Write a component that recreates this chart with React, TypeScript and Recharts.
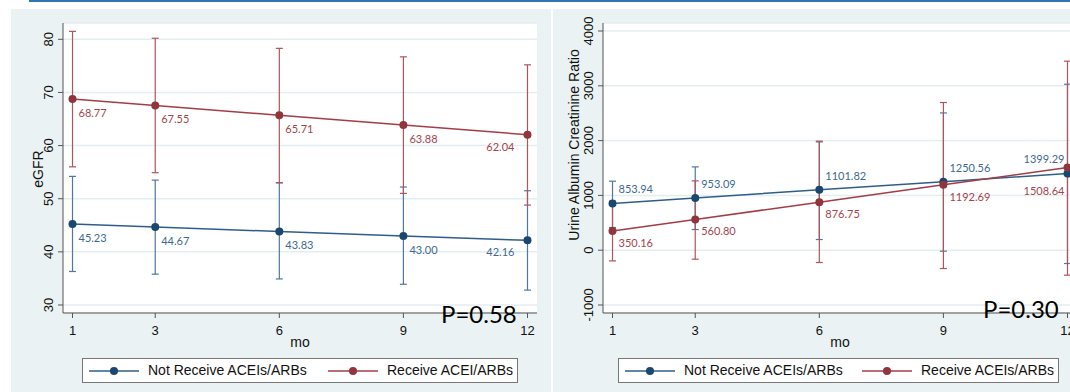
import {
  LineChart,
  Line,
  XAxis,
  YAxis,
  CartesianGrid,
  ErrorBar,
  LabelList,
  Legend,
} from "recharts";

const months = [1, 3, 6, 9, 12];

// eGFR panel
const egfrTicks = [30, 40, 50, 60, 70, 80];
const egfrNot = [45.23, 44.67, 43.83, 43.0, 42.16];
const egfrNotLow = [36.3, 35.8, 34.9, 33.9, 32.8];
const egfrNotHigh = [54.2, 53.5, 53.0, 52.2, 51.5];
const egfrRec = [68.77, 67.55, 65.71, 63.88, 62.04];
const egfrRecLow = [56.0, 54.9, 53.0, 51.0, 48.8];
const egfrRecHigh = [81.5, 80.2, 78.3, 76.7, 75.2];

// urine albumin creatinine ratio panel
const uacrTicks = [-1000, 0, 1000, 2000, 3000, 4000];
const uacrNot = [853.94, 953.09, 1101.82, 1250.56, 1399.29];
const uacrNotLow = [414, 377, 195, -18, -243];
const uacrNotHigh = [1259, 1520, 1976, 2505, 3029];
const uacrRec = [350.16, 560.8, 876.75, 1192.69, 1508.64];
const uacrRecLow = [-195, -164, -225, -334, -456];
const uacrRecHigh = [895, 1265, 1990, 2695, 3449];

const BLUE = "#2f5d89";
const BLUE_DOT = "#1a476f";
const BLUE_ERR = "#4d78a1";
const BLUE_TXT = "#3d6892";
const RED = "#a23d46";
const RED_DOT = "#90353b";
const RED_ERR = "#b0535b";
const RED_TXT = "#a3444c";
const BG = "#eaf2f3";
const AXIS = "#555";
const SANS = "'Liberation Sans', Arial, sans-serif";

function buildRows(
  a: number[], aLo: number[], aHi: number[],
  b: number[], bLo: number[], bHi: number[]
) {
  return months.map((m, i) => ({
    mo: m,
    not: a[i],
    notErr: [a[i] - aLo[i], aHi[i] - a[i]],
    rec: b[i],
    recErr: [b[i] - bLo[i], bHi[i] - b[i]],
  }));
}

const egfrRows = buildRows(egfrNot, egfrNotLow, egfrNotHigh, egfrRec, egfrRecLow, egfrRecHigh);
const uacrRows = buildRows(uacrNot, uacrNotLow, uacrNotHigh, uacrRec, uacrRecLow, uacrRecHigh);

const XTick = ({ x, y, payload }: any) => (
  <text x={x} y={y + 17} textAnchor="middle" fill="#111" fontSize={13} fontFamily={SANS}>
    {payload.value}
  </text>
);

const YTick = ({ x, y, payload }: any) => (
  <text
    transform={`translate(${x - 5.3},${y}) rotate(-90)`}
    textAnchor="middle"
    fill="#111"
    fontSize={13}
    fontFamily={SANS}
  >
    {payload.value}
  </text>
);

// point labels: "below" -> under & right, "above" -> over & right, last point anchored to the left
function pointLabel(color: string, dy: number, lastDy: number, lastDx: number) {
  return (props: any) => {
    const x = props.x ?? props.viewBox?.x;
    const y = props.y ?? props.viewBox?.y;
    if (x == null || y == null) return null;
    const last = props.index === months.length - 1;
    return (
      <text
        x={last ? x + lastDx : x + 6}
        y={y + (last ? lastDy : dy)}
        textAnchor={last ? "end" : "start"}
        fill={color}
        fontSize={11}
        fontFamily="Lato, sans-serif"
      >
        {Number(props.value).toFixed(2)}
      </text>
    );
  };
}

function yTitle(text: string, dx: number, dy: number) {
  return (props: any) => {
    const vb = props.viewBox || { x: 0, y: 14, width: 52, height: 290 };
    const cy = vb.y + vb.height / 2 + dy;
    return (
      <text
        transform={`translate(${vb.x + dx},${cy}) rotate(-90)`}
        textAnchor="middle"
        fill="#111"
        fontSize={14}
        fontFamily={SANS}
      >
        {text}
      </text>
    );
  };
}

const xTitle = (props: any) => {
  const vb = props.viewBox || { x: 52, y: 304, width: 474, height: 40 };
  return (
    <text x={vb.x + vb.width / 2} y={vb.y + 34} textAnchor="middle" fill="#111" fontSize={14} fontFamily={SANS}>
      mo
    </text>
  );
};

function LegendSymbol({ left, color, dot }: { left: number; color: string; dot: string }) {
  return (
    <svg width={52} height={12} style={{ position: "absolute", left, top: 6 }}>
      <line x1={0} y1={6} x2={50} y2={6} stroke={color} strokeWidth={1.5} />
      <circle cx={25} cy={6} r={4} fill={dot} />
    </svg>
  );
}

function legendBox(width: number, names: string[], pos: number[]) {
  return () => (
    <div
      style={{
        width,
        height: 25,
        boxSizing: "border-box",
        border: "1px solid #777",
        background: "#fff",
        position: "relative",
        fontFamily: SANS,
        fontSize: 14,
        color: "#111",
      }}
    >
      <LegendSymbol left={pos[0]} color={BLUE} dot={BLUE_DOT} />
      <span style={{ position: "absolute", left: pos[1], top: 3, whiteSpace: "nowrap" }}>{names[0]}</span>
      <LegendSymbol left={pos[2]} color={RED} dot={RED_DOT} />
      <span style={{ position: "absolute", left: pos[3], top: 3, whiteSpace: "nowrap" }}>{names[1]}</span>
    </div>
  );
}

type PanelProps = {
  rows: any[];
  width: number;
  yWidth: number;
  domain: [number, number];
  ticks: number[];
  title: any;
  notLabel: any;
  recLabel: any;
  legend: any;
  legendLeft: number;
  legendWidth: number;
};

function Panel(p: PanelProps) {
  return (
    <LineChart width={p.width} height={383} data={p.rows} margin={{ top: 14, right: 14, bottom: 39, left: 0 }}>
      <CartesianGrid vertical={false} stroke="#e4edf0" strokeWidth={1.5} fill="#ffffff" />
      <XAxis
        type="number"
        dataKey="mo"
        domain={[0.77, 12.23]}
        ticks={months}
        allowDataOverflow
        height={40}
        stroke={AXIS}
        tickSize={5}
        tickMargin={0}
        tick={<XTick />}
        label={{ content: xTitle }}
      />
      <YAxis
        type="number"
        width={p.yWidth}
        domain={p.domain}
        ticks={p.ticks}
        allowDataOverflow
        stroke={AXIS}
        tickSize={5}
        tickMargin={0}
        tick={<YTick />}
        label={{ content: p.title }}
      />
      <Line
        dataKey="not"
        stroke={BLUE}
        strokeWidth={1.5}
        dot={{ r: 4, fill: BLUE_DOT, stroke: BLUE_DOT, strokeWidth: 0 }}
        activeDot={false}
        isAnimationActive={false}
      >
        <ErrorBar dataKey="notErr" direction="y" width={3.5} stroke={BLUE_ERR} strokeWidth={1.2} isAnimationActive={false} />
        <LabelList dataKey="not" content={p.notLabel} />
      </Line>
      <Line
        dataKey="rec"
        stroke={RED}
        strokeWidth={1.5}
        dot={{ r: 4, fill: RED_DOT, stroke: RED_DOT, strokeWidth: 0 }}
        activeDot={false}
        isAnimationActive={false}
      >
        <ErrorBar dataKey="recErr" direction="y" width={3.5} stroke={RED_ERR} strokeWidth={1.2} isAnimationActive={false} />
        <LabelList dataKey="rec" content={p.recLabel} />
      </Line>
      <Legend
        layout="horizontal"
        verticalAlign="middle"
        align="center"
        content={p.legend}
        wrapperStyle={{ left: p.legendLeft, top: 349, width: p.legendWidth, height: 25 }}
      />
    </LineChart>
  );
}

export default function App() {
  return (
    <div
      style={{
        position: "absolute",
        left: 0,
        top: 0,
        width: 1070,
        height: 392,
        overflow: "hidden",
        background: "#fff",
      }}
    >
      <div style={{ position: "absolute", left: 29, top: 0, width: 1041, height: 2, background: "#2e75b6" }} />
      <div style={{ position: "absolute", left: 11, top: 9, width: 540, height: 383, background: BG }}>
        <Panel
          rows={egfrRows}
          width={540}
          yWidth={52}
          domain={[28.49, 83.07]}
          ticks={egfrTicks}
          title={yTitle("eGFR", 32, 1)}
          notLabel={pointLabel(BLUE_TXT, 18, 16, -13)}
          recLabel={pointLabel(RED_TXT, 18, 16, -13)}
          legend={legendBox(436, ["Not Receive ACEIs/ARBs", "Receive ACEI/ARBs"], [6, 65, 245, 304])}
          legendLeft={71}
          legendWidth={436}
        />
      </div>
      <div style={{ position: "absolute", left: 553, top: 9, width: 517, height: 383, background: BG, overflow: "hidden" }}>
        <Panel
          rows={uacrRows}
          width={538}
          yWidth={50}
          domain={[-1146, 4146]}
          ticks={uacrTicks}
          title={yTitle("Urine Albumin Creatinine Ratio", 26, -23)}
          notLabel={pointLabel(BLUE_TXT, -10, -11, -3)}
          recLabel={pointLabel(RED_TXT, 16, 27, -3)}
          legend={legendBox(441, ["Not Receive ACEIs/ARBs", "Receive ACEIs/ARBs"], [6, 65, 243, 302])}
          legendLeft={65}
          legendWidth={441}
        />
      </div>
      <svg
        width={1070}
        height={392}
        style={{ position: "absolute", left: 0, top: 0, pointerEvents: "none" }}
      >
        <text x={441} y={323} fontSize={24} fontFamily="Lato, sans-serif" fill="#000">
          P=0.58
        </text>
        <text x={983} y={318} fontSize={24} fontFamily="Lato, sans-serif" fill="#000">
          P=0.30
        </text>
      </svg>
    </div>
  );
}
